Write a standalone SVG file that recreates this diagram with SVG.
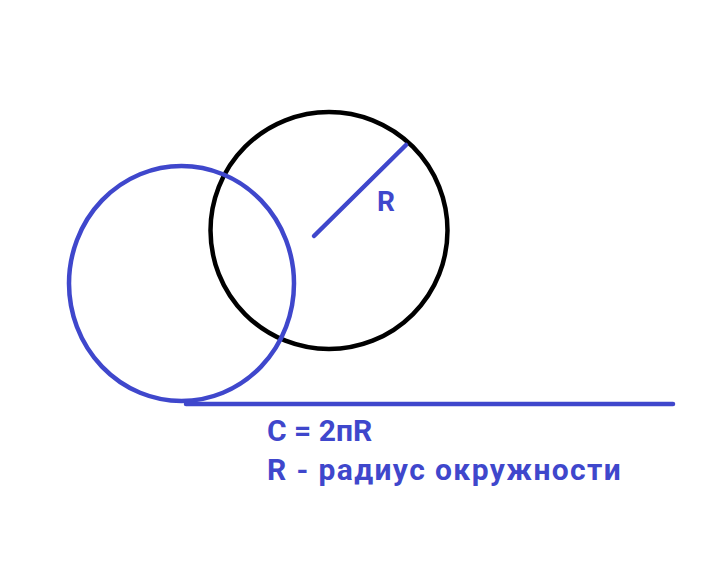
<svg xmlns="http://www.w3.org/2000/svg" width="717" height="587" viewBox="0 0 717 587">
<style>
.b{stroke:#3f47cc;fill:none;stroke-width:4.5}
.k{stroke:#000;fill:none;stroke-width:4.5}
.t{fill:#3f47cc;font-family:"Roboto","Liberation Sans",sans-serif;font-weight:bold}
</style>
<rect width="717" height="587" fill="#fff"/>
<g id="black-circle"><circle class="k" cx="329" cy="230.5" r="118.5"/></g>
<g id="blue-circle"><ellipse class="b" cx="181.5" cy="283.5" rx="112.5" ry="117.5"/></g>
<g id="connectors">
<line class="b" x1="314" y1="236" x2="406" y2="145" stroke-linecap="round"/>
<line class="b" x1="186" y1="404" x2="673" y2="404" stroke-width="5" stroke-linecap="round"/>
</g>
<g id="labels">
<text class="t" x="377" y="211" font-size="28">R</text>
<text class="t" x="267" y="441" font-size="30">C = 2пR</text>
<text class="t" x="267" y="480" font-size="30" letter-spacing="1.4">R - радиус окружности</text>
</g>
</svg>
